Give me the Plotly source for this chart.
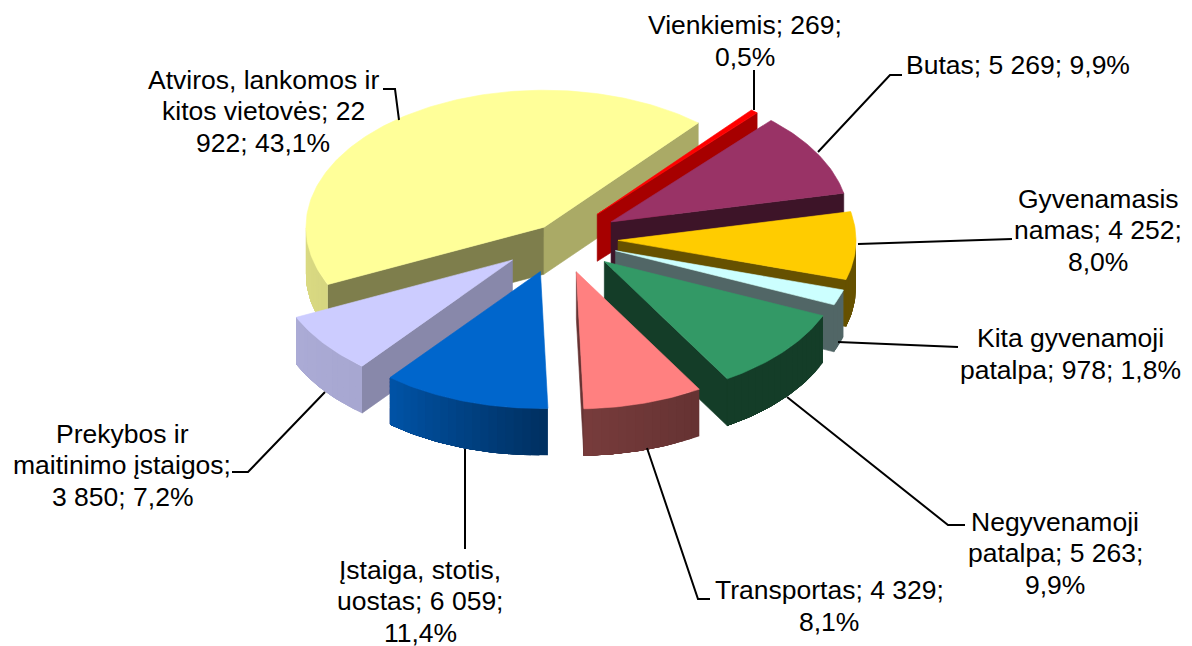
import numpy as np
import plotly.graph_objects as go

categories = ["Vienkiemis", "Butas", "Gyvenamasis namas", "Kita gyvenamoji patalpa", "Negyvenamoji patalpa",
              "Transportas", "Įstaiga, stotis, uostas", "Prekybos ir maitinimo įstaigos",
              "Atviros, lankomos ir kitos vietovės"]
values = [269, 5269, 4252, 978, 5263, 4329, 6059, 3850, 22922]
colors = ["#FF0000", "#993366", "#FFCC00", "#CCFFFF", "#339966", "#FF8080", "#0066CC", "#CCCCFF", "#FFFF99"]
pulls = [0.24, 0.25, 0.246, 0.25, 0.25, 0.25, 0.25, 0.25, 0.108]
draw_order = [8, 0, 1, 2, 3, 4, 5, 7, 6]
label_texts = ["Vienkiemis; 269;<br>0,5%", "Butas; 5 269; 9,9%", "Gyvenamasis<br>namas; 4 252;<br>8,0%",
               "Kita gyvenamoji<br>patalpa; 978; 1,8%", "Negyvenamoji<br>patalpa; 5 263;<br>9,9%",
               "Transportas; 4 329;<br>8,1%", "Įstaiga, stotis,<br>uostas; 6 059;<br>11,4%",
               "Prekybos ir<br>maitinimo įstaigos;<br>3 850; 7,2%", "Atviros, lankomos ir<br>kitos vietovės; 22<br>922; 43,1%"]

# layout of labels and leader lines (pixel space of the chart area)
label_pos = [(745, 41), (1018, 65), (1098, 230), (1070, 354), (1055, 553), (829, 606), (420, 601), (122, 465), (263, 111)]
leaders = [[(754, 110), (754, 70)],
           [(818, 152), (890, 75), (902, 75)],
           [(858, 244), (1005, 239), (1012, 239)],
           [(838, 342), (950, 347), (958, 347)],
           [(787, 397), (948, 525), (965, 525)],
           [(647, 448), (698, 599), (710, 599)],
           [(465, 449), (465, 549)],
           [(325, 392), (248, 472), (232, 472)],
           [(399, 120), (395, 89), (383, 89)]]
LINE_PITCH = 31.5

CX, CY, A, B, DEPTH = 559.5, 239.0, 238.0, 137.0, 47.0
START = 40.4


def shade(hex_color, f):
    r, g, b = (int(hex_color[i:i + 2], 16) for i in (1, 3, 5))
    return f"rgb({int(r * f)},{int(g * f)},{int(b * f)})"


def pt(t):
    t = np.radians(t)
    return np.sin(t) * A, -np.cos(t) * B


def outer_factor(t):
    return float(np.interp(t, [150, 178, 219, 270], [0.40, 0.47, 0.82, 0.86]))


def radial_factor(n):
    return float(np.interp(n % 360, [130, 155, 168], [0.67, 0.5, 0.4]))


fig = go.Figure()


def poly(xs, ys, color, name, lw=0.6):
    fig.add_trace(go.Scatter(x=xs, y=ys, mode="lines", fill="toself", fillcolor=color,
                             line=dict(color=color, width=lw), name=name, hoverinfo="name",
                             showlegend=False))


total = sum(values)
edges = START + np.cumsum([0] + values) / total * 360
for i in draw_order:
    t1, t2 = edges[i], edges[i + 1]
    mid = (t1 + t2) / 2
    mx, my = pt(mid)
    ax, ay = CX + pulls[i] * mx, CY + pulls[i] * my
    name, col = categories[i], colors[i]
    # radial walls
    for t, vis, n in ((t1, np.sin(np.radians(t1)) < 0, t1 - 90), (t2, np.sin(np.radians(t2)) > 0, t2 + 90)):
        if vis:
            dx, dy = pt(t)
            poly([ax, ax + dx, ax + dx, ax, ax], [ay, ay + dy, ay + dy + DEPTH, ay + DEPTH, ay],
                 shade(col, radial_factor(n)), name)
    # outer wall: each facet runs to the far end of the wall, the next one paints over it
    lo, hi = max(t1, 90), min(t2, 270)
    if hi > lo:
        n = max(1, int((hi - lo) / 2))
        ts = np.linspace(lo, hi, n + 1)
        for a, b in zip(ts[:-1], ts[1:]):
            arc = np.linspace(a, hi, max(3, int(hi - a) + 2))
            px, py = pt(arc)
            xs = np.concatenate([ax + px, (ax + px)[::-1], [ax + px[0]]])
            ys = np.concatenate([ay + py, (ay + py + DEPTH)[::-1], [ay + py[0]]])
            poly(xs, ys, shade(col, outer_factor((a + b) / 2)), name, lw=0)
    # top face
    arc = np.linspace(t1, t2, max(4, int(t2 - t1) + 2))
    px, py = pt(arc)
    poly(np.concatenate([[ax], ax + px, [ax]]), np.concatenate([[ay], ay + py, [ay]]), col, name)

for seg in leaders:
    fig.add_trace(go.Scatter(x=[p[0] for p in seg], y=[p[1] for p in seg], mode="lines",
                             line=dict(color="black", width=2), hoverinfo="skip", showlegend=False))

annotations = []
for (x, y), t in zip(label_pos, label_texts):
    lines = t.split("<br>")
    for k, line in enumerate(lines):
        annotations.append(dict(x=x, y=y + (k - (len(lines) - 1) / 2) * LINE_PITCH, text=line, showarrow=False,
                                xanchor="center", yanchor="middle", align="center",
                                font=dict(family="Liberation Sans", size=26.5, color="black")))

fig.update_layout(width=1192, height=646, margin=dict(l=0, r=0, t=0, b=0), paper_bgcolor="white",
                  plot_bgcolor="white", annotations=annotations,
                  xaxis=dict(range=[0, 1192], visible=False, fixedrange=True),
                  yaxis=dict(range=[646, 0], visible=False, fixedrange=True))
fig.write_html("out.html", config=dict(displayModeBar=False),
               post_script="document.body.style.margin='0';document.body.style.overflow='hidden';")
